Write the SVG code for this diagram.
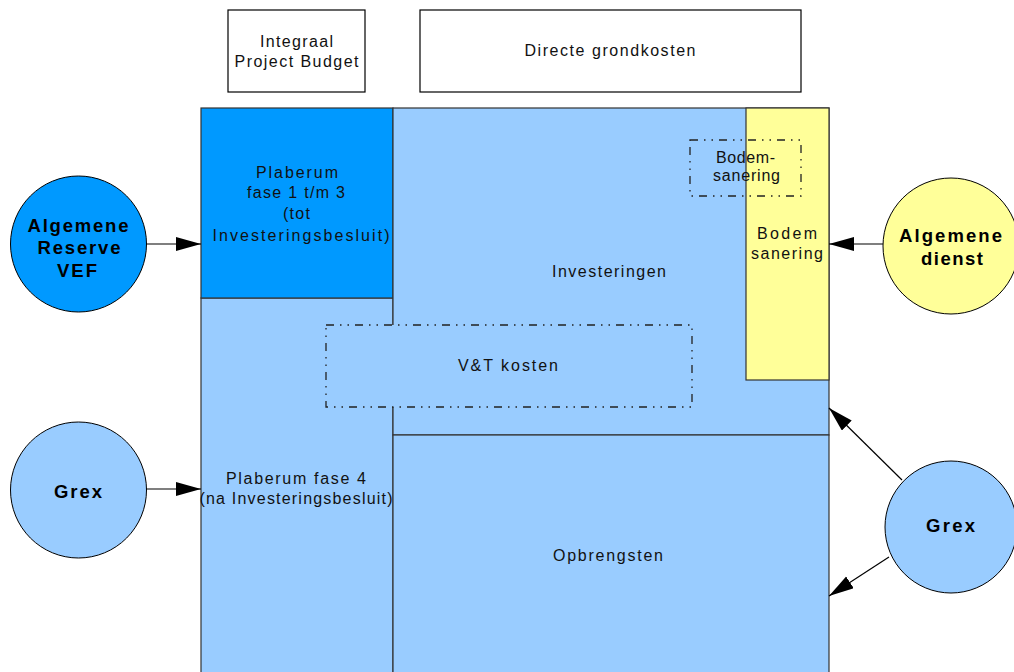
<svg xmlns="http://www.w3.org/2000/svg" width="1014" height="672" viewBox="0 0 1014 672">
<style>
.t{font-family:"Liberation Sans",Arial,sans-serif;font-size:16px;fill:#111;text-anchor:middle}
.b{font-family:"Liberation Sans",Arial,sans-serif;font-size:18.5px;font-weight:bold;fill:#000;text-anchor:middle}
.box{stroke:#333;stroke-width:1.2}
.top{fill:#fff;stroke:#000;stroke-width:1.2}
.dd{stroke:#222;stroke-width:1.3;stroke-dasharray:8 6 1.5 6 1.5 6}
.circ{stroke:#000;stroke-width:1}
.con{stroke:#000;stroke-width:1.2;fill:none}
</style>
<defs>
<marker id="ah" markerUnits="userSpaceOnUse" markerWidth="26" markerHeight="16" refX="25" refY="7" orient="auto">
<path d="M0,0 L25,7 L0,14 z" fill="#000"/>
</marker>
</defs>
<rect width="1014" height="672" fill="#fff"/>
<g id="integraal">
<rect class="top" x="228" y="10" width="137" height="82"/>
<text class="t" x="296.5" y="47" textLength="73" lengthAdjust="spacing">Integraal</text>
<text class="t" x="296.5" y="67" textLength="124" lengthAdjust="spacing">Project Budget</text>
</g>
<g id="directe">
<rect class="top" x="420" y="10" width="381" height="82"/>
<text class="t" x="610" y="56" textLength="171" lengthAdjust="spacing">Directe grondkosten</text>
</g>
<g id="plaberum4">
<rect class="box" x="201" y="298" width="192" height="380" fill="#99ccff"/>
<text class="t" x="296" y="484" textLength="140" lengthAdjust="spacing">Plaberum fase 4</text>
<text class="t" x="296" y="504" textLength="193" lengthAdjust="spacing">(na Investeringsbesluit)</text>
</g>
<g id="plaberum13">
<rect class="box" x="201" y="108" width="192" height="190" fill="#0099ff"/>
<text class="t" x="297" y="178" textLength="82" lengthAdjust="spacing">Plaberum</text>
<text class="t" x="296" y="198" textLength="98" lengthAdjust="spacing">fase 1 t/m 3</text>
<text class="t" x="296.5" y="219" textLength="27" lengthAdjust="spacing">(tot</text>
<text class="t" x="301" y="241" textLength="177" lengthAdjust="spacing">Investeringsbesluit)</text>
</g>
<g id="investeringen">
<rect class="box" x="393" y="108" width="436" height="327" fill="#99ccff"/>
<text class="t" x="609" y="277" textLength="114" lengthAdjust="spacing">Investeringen</text>
</g>
<g id="opbrengsten">
<rect class="box" x="393" y="435" width="436" height="243" fill="#99ccff"/>
<text class="t" x="608" y="561" textLength="110" lengthAdjust="spacing">Opbrengsten</text>
</g>
<g id="bodemsanering">
<rect class="box" x="746" y="108" width="83" height="272" fill="#ffff99"/>
<text class="t" x="787" y="239" textLength="60" lengthAdjust="spacing">Bodem</text>
<text class="t" x="787" y="259" textLength="72" lengthAdjust="spacing">sanering</text>
</g>
<g id="vtkosten">
<rect class="dd" x="326" y="325" width="366" height="82" fill="#99ccff"/>
<text class="t" x="508" y="371" textLength="100" lengthAdjust="spacing">V&amp;T kosten</text>
</g>
<g id="bodem-dd">
<rect class="dd" x="690" y="140" width="111" height="56" fill="none"/>
<text class="t" x="745.5" y="163" textLength="59" lengthAdjust="spacing">Bodem-</text>
<text class="t" x="746.5" y="181" textLength="67" lengthAdjust="spacing">sanering</text>
</g>
<g id="vef">
<circle class="circ" cx="78.5" cy="244" r="68" fill="#0099ff"/>
<text class="b" x="78" y="232" textLength="101" lengthAdjust="spacing">Algemene</text>
<text class="b" x="79" y="254" textLength="83" lengthAdjust="spacing">Reserve</text>
<text class="b" x="77" y="277" textLength="40" lengthAdjust="spacing">VEF</text>
</g>
<g id="grex-left">
<circle class="circ" cx="78.5" cy="490" r="68" fill="#99ccff"/>
<text class="b" x="78" y="498" textLength="48" lengthAdjust="spacing">Grex</text>
</g>
<g id="algemene-dienst">
<circle class="circ" cx="951" cy="246" r="68" fill="#ffff99"/>
<text class="b" x="950.5" y="242" textLength="103" lengthAdjust="spacing">Algemene</text>
<text class="b" x="952" y="265" textLength="62" lengthAdjust="spacing">dienst</text>
</g>
<g id="grex-right">
<circle class="circ" cx="951" cy="527" r="66" fill="#99ccff"/>
<text class="b" x="950.5" y="532" textLength="49" lengthAdjust="spacing">Grex</text>
</g>
<g id="connectors">
<line class="con" x1="146" y1="244" x2="201" y2="244" marker-end="url(#ah)"/>
<line class="con" x1="146" y1="489" x2="201" y2="489" marker-end="url(#ah)"/>
<line class="con" x1="883" y1="244" x2="829" y2="244" marker-end="url(#ah)"/>
<line class="con" x1="902" y1="480" x2="829" y2="408" marker-end="url(#ah)"/>
<line class="con" x1="889" y1="557" x2="829" y2="596" marker-end="url(#ah)"/>
</g>
</svg>
